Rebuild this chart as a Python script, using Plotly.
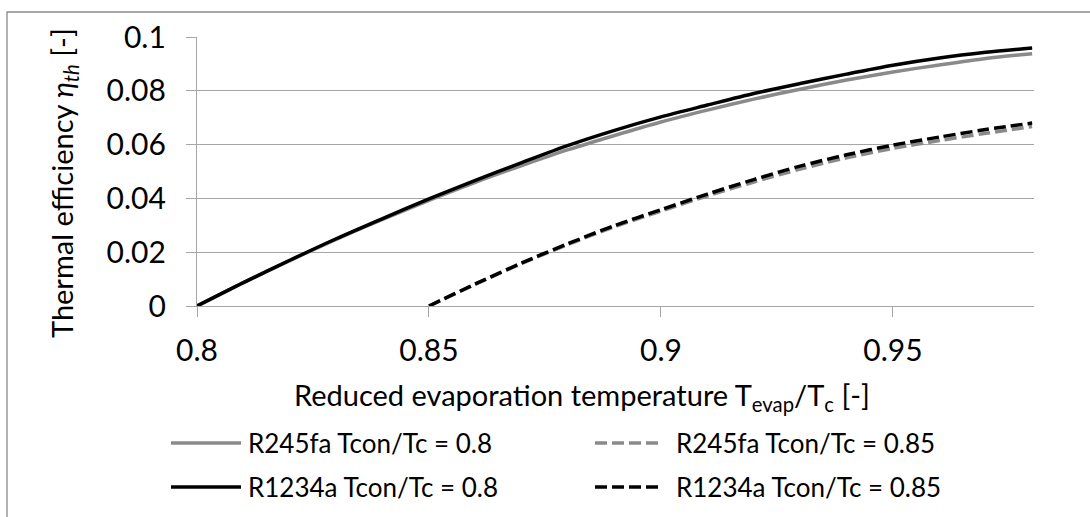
import plotly.graph_objects as go

# ---- data ----
x_08 = [0.80, 0.81, 0.82, 0.83, 0.84, 0.85, 0.86, 0.87, 0.88, 0.89, 0.90,
        0.91, 0.92, 0.93, 0.94, 0.95, 0.96, 0.97, 0.98]
r245fa_08 = [0.0, 0.0087, 0.0169, 0.0248, 0.0322, 0.0393, 0.0460, 0.0522, 0.0581,
             0.0634, 0.0684, 0.0728, 0.0769, 0.0806, 0.0840, 0.0870, 0.0896, 0.0920, 0.0938]
r1234a_08 = [0.0, 0.0087, 0.0170, 0.0250, 0.0325, 0.0398, 0.0467, 0.0533, 0.0597,
             0.0653, 0.0703, 0.0747, 0.0790, 0.0827, 0.0862, 0.0895, 0.0922, 0.0943, 0.0959]
x_085 = [0.85, 0.86, 0.87, 0.88, 0.89, 0.90, 0.91, 0.92, 0.93, 0.94, 0.95,
         0.96, 0.97, 0.98]
r245fa_085 = [0.0, 0.0081, 0.0158, 0.0229, 0.0295, 0.0353, 0.0409, 0.0461, 0.0509,
              0.0551, 0.0586, 0.0615, 0.0642, 0.0667]
r1234a_085 = [0.0, 0.0082, 0.0160, 0.0232, 0.0299, 0.0358, 0.0416, 0.0470, 0.0520,
              0.0562, 0.0598, 0.0628, 0.0656, 0.0680]
series_names = ["R245fa Tcon/Tc = 0.8", "R245fa Tcon/Tc = 0.85",
                "R1234a Tcon/Tc = 0.8", "R1234a Tcon/Tc = 0.85"]
x_tickvals = [0.8, 0.85, 0.9, 0.95]
x_ticktext = ["0.8", "0.85", "0.9", "0.95"]
y_tickvals = [0, 0.02, 0.04, 0.06, 0.08, 0.1]
y_ticktext = ["0", "0.02", "0.04", "0.06", "0.08", "0.1"]

# ---- layout geometry (pixels) ----
W, H = 1090, 517
L, R, T, B = 197, 1034, 37, 306
GRAY = "#8a8a8a"
GRID = "#a6a6a6"
FONT = "Lato"
DASH = "12px,5px"


def px(x):
    return (x - L) / (R - L)


def py(y):
    return (B - y) / (B - T)


styles = [
    dict(color=GRAY, width=3.5, dash="solid"),
    dict(color=GRAY, width=3.5, dash=DASH),
    dict(color="black", width=3.5, dash="solid"),
    dict(color="black", width=3.5, dash=DASH),
]
xs = [x_08, x_085, x_08, x_085]
ys = [r245fa_08, r245fa_085, r1234a_08, r1234a_085]

fig = go.Figure()
for name, xv, yv, st in zip(series_names, xs, ys, styles):
    fig.add_trace(go.Scatter(x=xv, y=yv, mode="lines", name=name,
                             line=dict(shape="spline", smoothing=0.8, **st),
                             showlegend=False))

shapes = []
annotations = []
# outer chart border
shapes.append(dict(type="rect", xref="paper", yref="paper",
                   x0=px(7), x1=px(1200), y0=py(620), y1=py(12),
                   line=dict(color=GRAY, width=1.3), layer="below"))

# manual legend
leg_pos = [(171, 241, 246, 443), (595, 663, 674, 443),
           (171, 241, 246, 487), (595, 663, 674, 487)]
for name, st, (lx0, lx1, tx, ly) in zip(series_names, styles, leg_pos):
    shapes.append(dict(type="line", xref="paper", yref="paper",
                       x0=px(lx0), x1=px(lx1), y0=py(ly), y1=py(ly),
                       line=dict(color=st["color"], width=st["width"],
                                 dash=st["dash"])))
    annotations.append(dict(text=name, xref="paper", yref="paper",
                            x=px(tx), y=py(ly), xanchor="left", yanchor="middle",
                            showarrow=False,
                            font=dict(family=FONT, size=26, color="black")))

# axis titles
annotations.append(dict(text="Reduced evaporation temperature T<sub>evap</sub>/T<sub>c</sub> [-]",
                        xref="paper", yref="paper", x=px(582), y=py(397),
                        xanchor="center", yanchor="middle", showarrow=False,
                        font=dict(family=FONT, size=29, color="black")))
annotations.append(dict(text="Thermal efficiency <i>η<sub>th</sub></i> [-]",
                        xref="paper", yref="paper", x=px(63), y=py(183),
                        xanchor="center", yanchor="middle", showarrow=False,
                        textangle=-90,
                        font=dict(family=FONT, size=29, color="black")))

fig.update_layout(
    width=W, height=H,
    margin=dict(l=L, r=W - R, t=T, b=H - B, pad=0),
    paper_bgcolor="white", plot_bgcolor="white",
    font=dict(family=FONT, color="black"),
    shapes=shapes, annotations=annotations,
    xaxis=dict(range=[0.8, 0.9804], tickvals=x_tickvals, ticktext=x_ticktext,
               showgrid=False, zeroline=False, showline=True, linecolor=GRID,
               linewidth=1.3, ticks="outside", ticklen=10, tickcolor=GRID,
               tickwidth=1.3, tickfont=dict(family=FONT, size=30, color="black"),
               ticklabelstandoff=8),
    yaxis=dict(range=[0, 0.1], tickvals=y_tickvals, ticktext=y_ticktext,
               showgrid=True, gridcolor=GRID, gridwidth=1.3, zeroline=False,
               showline=True, linecolor=GRID, linewidth=1.3, ticks="outside",
               ticklen=10, tickcolor=GRID, tickwidth=1.3,
               tickfont=dict(family=FONT, size=30, color="black"),
               ticklabelstandoff=14),
)

fig.write_html("out.html")
